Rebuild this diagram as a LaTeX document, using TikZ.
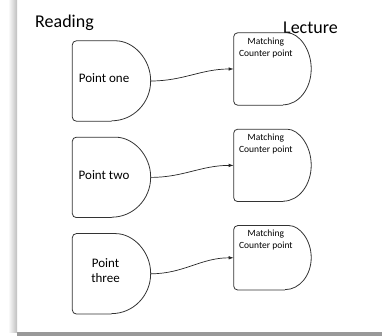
\documentclass[tikz,border=0pt]{standalone}
\usepackage{fontspec}
\setmainfont{Carlito}
\usetikzlibrary{positioning,arrows.meta}
% D shaped outline round a node: node, x radius, y radius
\newcommand{\dshape}[3]
{
  \draw[outline, rounded corners=4pt]
    ([xshift=-#2pt]#1.south east) -- (#1.south west) -- (#1.north west)
    -- ([xshift=-#2pt]#1.north east)
    arc[start angle=90, end angle=-90, x radius=#2pt, y radius=#3pt];
}
% text box set off from the left edge
\newcommand{\inbox}[3]
{
  \makebox[75pt][l]{\parbox[c][#1][t]{#2}{\centering #3}}
}

\begin{document}
\begin{tikzpicture}
    [
      x=1pt, y=-1pt,
      node distance=16pt,
      outline/.style=
      {
        draw=black!80,
        line width=0.8pt
      },
      point/.style=
      {
        minimum width=75pt,
        minimum height=80pt,
        inner sep=0pt,
        font=\fontsize{13}{15}\selectfont
      },
      counter/.style=
      {
        minimum width=75pt,
        minimum height=72pt,
        inner sep=0pt,
        font=\fontsize{9.5}{11.5}\selectfont
      },
      heading/.style=
      {
        anchor=base west,
        inner sep=0pt,
        font=\fontsize{18}{20}\selectfont
      },
      link/.style=
      {
        -{Latex[length=5pt,width=3.5pt]},
        draw=black!85,
        line width=0.7pt
      }
    ]
    \useasboundingbox (0,0) rectangle (382,336);
    % page shadow
    \shade[left color=white, right color=black!25] (8,0) rectangle (17,332);
    \fill[black!40] (17,332) rectangle (382,336);

    \node[heading](Reading) at (35,28) {Reading};
    \node[heading](Lecture) at (283,34) {Lecture};

    \node[point](PointOne) at (111.5,81)
    {
      \inbox{14pt}{63pt}{Point one}
    };
    \node[point, below=of PointOne](PointTwo)
    {
      \inbox{14pt}{63pt}{Point two}
    };
    \node[point, below=of PointTwo](PointThree)
    {
      \inbox{30pt}{66pt}{Point\\three}
    };

    \node[counter, right=83pt of PointOne, yshift=12pt](CounterOne)
    {
      \inbox{62pt}{64pt}{Matching\\Counter point}
    };
    \node[counter, right=83pt of PointTwo, yshift=12pt](CounterTwo)
    {
      \inbox{62pt}{64pt}{Matching\\Counter point}
    };
    \node[counter, minimum height=64pt, right=83pt of PointThree, yshift=16pt](CounterThree)
    {
      \inbox{55pt}{64pt}{Matching\\Counter point}
    };

    \dshape{PointOne}{39}{40}
    \dshape{PointTwo}{39}{40}
    \dshape{PointThree}{39}{40}
    \dshape{CounterOne}{28}{36}
    \dshape{CounterTwo}{28}{36}
    \dshape{CounterThree}{26}{32}

    \draw[link] (PointOne.east) to[out=0, in=180] (CounterOne.west);
    \draw[link] (PointTwo.east) to[out=0, in=180] (CounterTwo.west);
    \draw[link] (PointThree.east) to[out=0, in=180] (CounterThree.west);
  \end{tikzpicture}
\end{document}
